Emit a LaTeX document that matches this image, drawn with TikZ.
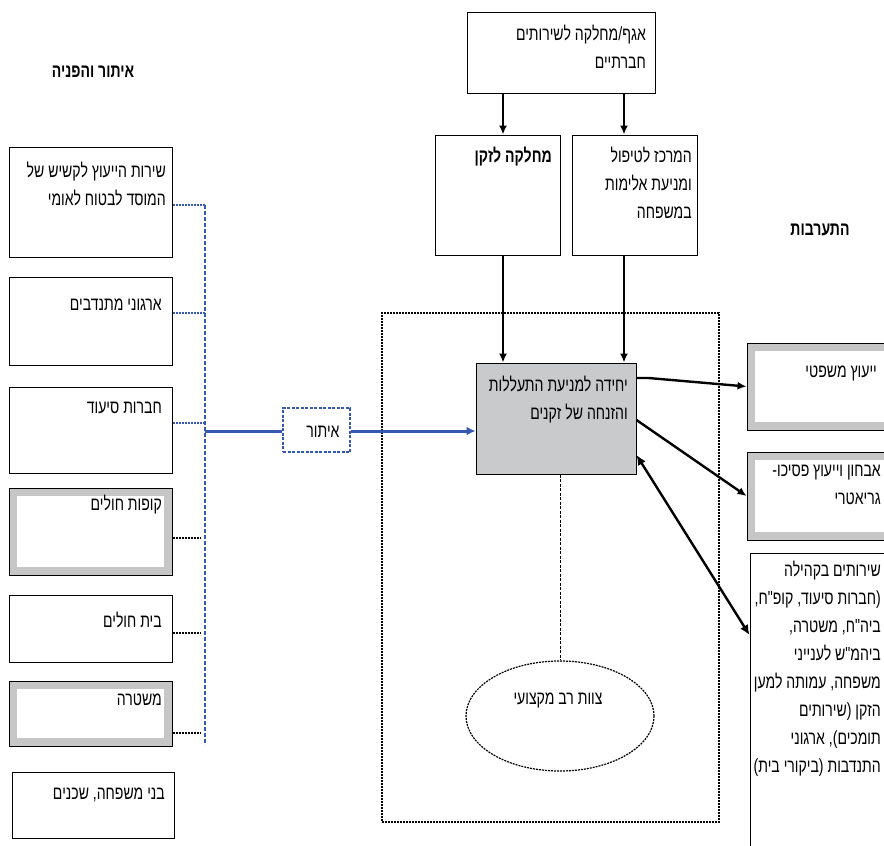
\documentclass[tikz,border=0pt]{standalone}
\usepackage{fontspec}
\usetikzlibrary{arrows.meta,shapes.geometric,fit}
\TeXXeTstate=1
\newfontfamily\hebfont[Script=Hebrew,FakeStretch=0.74]{Liberation Sans}
\newcommand\heb[1]{\beginR #1\endR}
\definecolor{frgray}{HTML}{C6C6C6}
\definecolor{boxgray}{HTML}{C9CACC}
\definecolor{linkblue}{HTML}{3558B0}
\begin{document}
\begin{tikzpicture}[x=1pt,y=-1pt,
  box/.style={draw=black, line width=1pt, rectangle, inner sep=0pt, fill=white},
  gbox/.style={box, fill=frgray, path picture={\fill[white] ([shift={(8pt,-8pt)}]path picture bounding box.north west) rectangle ([shift={(-8pt,8pt)}]path picture bounding box.south east);}},
  txt/.style={font=\hebfont\fontsize{19}{28}\selectfont, inner sep=0pt, align=right},
  boldtxt/.style={font=\hebfont\bfseries\fontsize{19}{28}\selectfont, inner sep=0pt},
  arr/.style={line width=2pt, -{Latex[length=9pt,width=8pt]}},
  dblarr/.style={line width=2.4pt, {Latex[length=10pt,width=9pt]}-{Latex[length=10pt,width=9pt]}},
  bluestub/.style={draw=linkblue, line width=1.4pt, dash pattern=on 2pt off 1pt},
  blackstub/.style={draw=black, line width=1.4pt, dash pattern=on 2pt off 1pt},
  bluevert/.style={draw=linkblue, line width=1.2pt, dash pattern=on 4pt off 2pt},
  mainblue/.style={draw=linkblue, line width=3pt},
  regionbox/.style={draw=black, line width=1.2pt, dash pattern=on 2pt off 1pt, rectangle, inner sep=0pt},
]
\clip (0,0) rectangle (884,846);
\fill[white] (0,0) rectangle (884,846);

% titles
\node[boldtxt] (ttl1) at (93,72) {\heb{איתור והפניה}};
\node[boldtxt] (ttl2) at (820,230) {\heb{התערבות}};

% left column
\node[box, fit={(9,147) (172,257)}] (b1) {};
\node[box, fit={(9,277) (172,365)}] (b2) {};
\node[box, fit={(9,387) (172,473)}] (b3) {};
\node[gbox, fit={(9,488) (172,575)}] (b4) {};
\node[box, fit={(9,595) (172,662)}] (b5) {};
\node[gbox, fit={(9,681) (172,746)}] (b6) {};
\node[box, fit={(12,772) (174,838)}] (b7) {};

\node[txt, anchor=north east] (t1) at (166,162) {\heb{שירות הייעוץ לקשיש של}\\\heb{המוסד לבטוח לאומי}};
\node[txt, anchor=east] (t2) at (162,305) {\heb{ארגוני מתנדבים}};
\node[txt, anchor=east] (t3) at (162,408) {\heb{חברות סיעוד}};
\node[txt, anchor=east] (t4) at (162,505) {\heb{קופות חולים}};
\node[txt, anchor=east] (t5) at (162,620) {\heb{בית חולים}};
\node[txt, anchor=east] (t6) at (162,700) {\heb{משטרה}};
\node[txt, anchor=east] (t7) at (165,795) {\heb{בני משפחה, שכנים}};

% stubs and vertical collector
\coordinate (v1) at (205,205);
\coordinate (v2) at (205,313);
\coordinate (v3) at (205,423);
\coordinate (v4) at (201,538);
\coordinate (v5) at (201,633);
\coordinate (v6) at (201,733);
\coordinate (vbot) at (205,745);
\coordinate (vmid) at (205,431);
\draw[bluestub] (b1.east |- v1) -- (v1);
\draw[bluestub] (b2.east |- v2) -- (v2);
\draw[bluestub] (b3.east |- v3) -- (v3);
\draw[blackstub] (b4.east |- v4) -- (v4);
\draw[blackstub] (b5.east |- v5) -- (v5);
\draw[blackstub] (b6.east |- v6) -- (v6);
\draw[bluevert] (v1) -- (vbot);

% itur
\node[draw=linkblue, line width=1.2pt, dash pattern=on 3pt off 1.5pt, rectangle, inner sep=0pt, fit={(283,408) (350,452)}] (itur) {};
\node[txt] (iturtxt) at (323,432) {\heb{איתור}};

% top chain
\node[box, fit={(467,12) (655,93)}] (top) {};
\node[txt, anchor=north east] (toptxt) at (646,25) {\heb{אגף/מחלקה לשירותים}\\\heb{חברתיים}};
\node[box, fit={(435,135) (560,255)}] (dept) {};
\node[boldtxt, anchor=east] (depttxt) at (552,157) {\heb{מחלקה לזקן}};
\node[box, fit={(572,135) (697,255)}] (ctr) {};
\node[txt, anchor=north east] (ctrtxt) at (692,147) {\heb{המרכז לטיפול}\\\heb{ומניעת אלימות}\\\heb{במשפחה}};

% region and unit
\node[regionbox, fit={(382,313) (719,822)}] (region) {};
\node[box, fill=boxgray, fit={(476,363) (636,474)}] (unit) {};
\node[txt, anchor=north east] (unittxt) at (628,376) {\heb{יחידה למניעת התעללות}\\\heb{והזנחה של זקנים}};

\coordinate (xa) at (503,0);
\coordinate (xb) at (624,0);
\draw[arr] (top.south -| xa) -- (dept.north -| xa);
\draw[arr] (top.south -| xb) -- (ctr.north -| xb);
\draw[arr] (dept.south -| xa) -- (unit.north -| xa);
\draw[arr] (ctr.south -| xb) -- (unit.north -| xb);

% team ellipse
\node[ellipse, draw=black, line width=1.2pt, dash pattern=on 2pt off 1pt, minimum width=188pt, minimum height=110pt, inner sep=0pt] (team) at (560,716) {};
\node[txt] (teamtxt) at (558,700) {\heb{צוות רב מקצועי}};
\draw[black, line width=1pt, dash pattern=on 3pt off 1.5pt] (unit.south -| team.north) -- (team.north);

% blue main arrow
\draw[mainblue] (vmid) -- (itur.west |- vmid);
\draw[mainblue, -{Latex[length=9pt,width=9pt]}] (itur.east |- vmid) -- (unit.west |- vmid);

% right column
\node[gbox, fit={(747,343) (895,430)}] (legal) {};
\node[txt, anchor=east] (legaltxt) at (877,373) {\heb{ייעוץ משפטי}};
\node[gbox, fit={(747,452) (895,540)}] (psy) {};
\node[txt, anchor=north east] (psytxt) at (881,465) {\heb{אבחון וייעוץ פסיכו-}\\\heb{גריאטרי}};
\node[box, fit={(750,553) (895,860)}] (comm) {};
\node[txt, anchor=north east] (commtxt) at (881,561) {\heb{שירותים בקהילה}\\\heb{(חברות סיעוד, קופ"ח,}\\\heb{ביה"ח, משטרה,}\\\heb{ביהמ"ש לענייני}\\\heb{משפחה, עמותה למען}\\\heb{הזקן (שירותים}\\\heb{תומכים), ארגוני}\\\heb{התנדבות (ביקורי בית)}};

\coordinate (r1) at (636,378);
\coordinate (r2) at (636,420);
\coordinate (r3) at (636,455);
\coordinate (r3e) at (750,635);
\draw[arr, line width=2.4pt] (unit.east |- r1) -- ++(12,0) -- (legal.west);
\draw[arr, line width=2.4pt] (unit.east |- r2) -- (psy.west);
\draw[dblarr] (unit.east |- r3) -- (comm.west |- r3e);
\end{tikzpicture}
\end{document}
